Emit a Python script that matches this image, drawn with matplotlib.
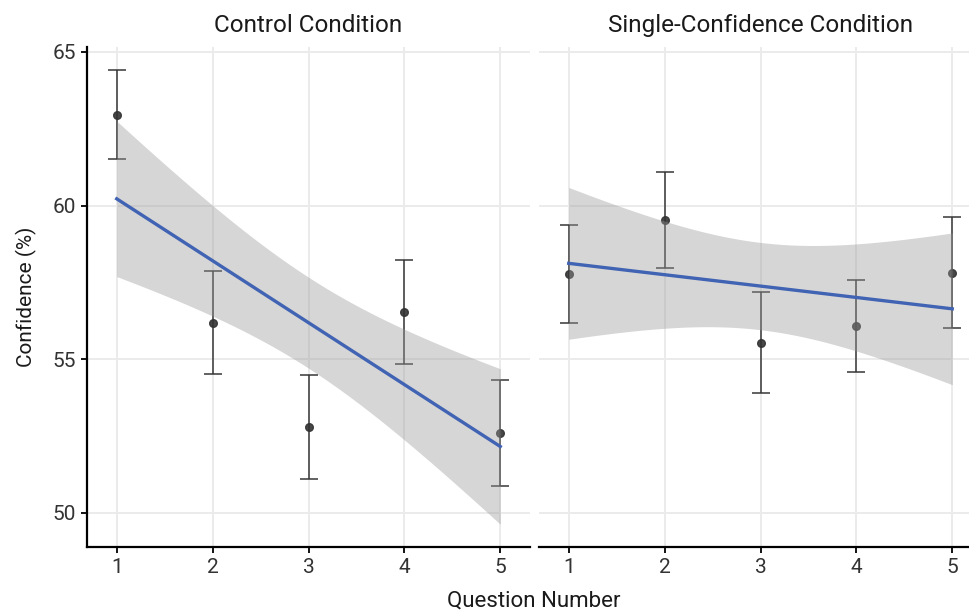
import numpy as np
import matplotlib
matplotlib.use("Agg")
import matplotlib.pyplot as plt

plt.rcParams['font.family'] = ['Roboto', 'DejaVu Sans']

questions = [1, 2, 3, 4, 5]

# mean confidence and error bar ends, per condition
control_mean = [62.95, 56.19, 52.81, 56.55, 52.61]
control_lo = [61.52, 54.51, 51.11, 54.86, 50.89]
control_hi = [64.41, 57.86, 54.49, 58.23, 54.33]

single_mean = [57.78, 59.53, 55.54, 56.09, 57.81]
single_lo = [56.18, 57.97, 53.90, 54.59, 56.02]
single_hi = [59.38, 61.10, 57.18, 57.59, 59.63]

# smooth fit: fitted value at q=1 and q=5,
# band half width at the centre (q=3) and at the ends (q=1, q=5)
control_fit = [60.22, 52.16]
control_band = [1.48, 2.53]
single_fit = [58.12, 56.64]
single_band = [1.42, 2.47]

panels = [
    ("Control Condition", control_mean, control_lo, control_hi, control_fit, control_band),
    ("Single-Confidence Condition", single_mean, single_lo, single_hi, single_fit, single_band),
]

fig = plt.figure(figsize=(9.69, 6.15), dpi=100)
W, H = 969, 615
axes = [fig.add_axes([87 / W, 68 / H, 443 / W, 500 / H]),
        fig.add_axes([539 / W, 68 / H, 443 / W, 500 / H])]

xs = np.linspace(1, 5, 200)
for i, (ax, (title, mean, lo, hi, fit, band)) in enumerate(zip(axes, panels)):
    mean = np.array(mean)
    yerr = [mean - np.array(lo), np.array(hi) - mean]
    ax.errorbar(questions, mean, yerr=yerr, fmt='o', color='#333333', ms=5.5,
                elinewidth=1.2, capsize=6.8, capthick=1.2, alpha=0.9, zorder=2)

    # linear fit with its confidence band
    yfit = fit[0] + (fit[1] - fit[0]) * (xs - 1) / 4
    slope_se = np.sqrt(band[1] ** 2 - band[0] ** 2) / 2
    hw = np.sqrt(band[0] ** 2 + (slope_se * (xs - 3)) ** 2)
    ax.fill_between(xs, yfit - hw, yfit + hw, color='#999999', alpha=0.4,
                    lw=0, zorder=3)
    ax.plot(xs, yfit, color='#4163b3', lw=2.4, zorder=4)

    ax.set_xlim(0.69, 5.31)
    ax.set_ylim(48.89, 65.16)
    ax.set_xticks(questions)
    ax.set_yticks([50, 55, 60, 65])
    ax.grid(True, color='#ebebeb', lw=1.4)
    ax.set_axisbelow(True)
    for s in ['top', 'right']:
        ax.spines[s].set_visible(False)
    ax.spines['bottom'].set_linewidth(1.6)
    ax.tick_params(axis='both', length=4, width=1.3, labelsize=15,
                   labelcolor='#333333', pad=4)
    ax.set_title(title, fontsize=17.5, color='#1a1a1a', pad=11)
    if i == 0:
        ax.spines['left'].set_linewidth(1.6)
        ax.set_ylabel("Confidence (%)", fontsize=15, color='#1a1a1a', labelpad=11)
    else:
        ax.spines['left'].set_visible(False)
        ax.tick_params(axis='y', left=False, labelleft=False)

fig.text(534 / W, 14 / H, "Question Number", fontsize=16, color='#1a1a1a',
         ha='center', va='center')

fig.savefig("out.png", dpi=100)
